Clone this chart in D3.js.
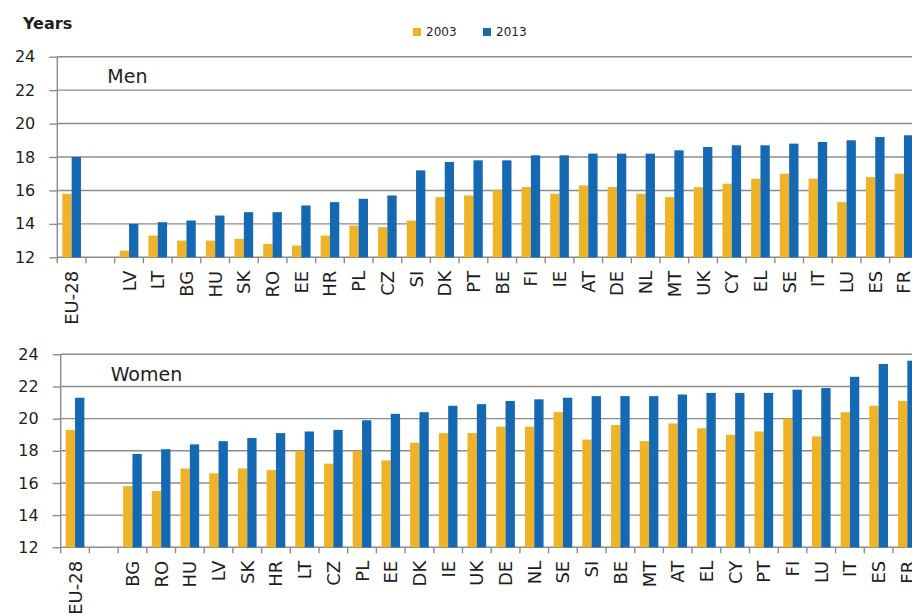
<!DOCTYPE html>
<html>
<head>
<meta charset="utf-8">
<script src="https://cdn.jsdelivr.net/npm/d3@7"></script>
<style>
body { margin: 0; background: #fff; }
svg { display: block; font-family: "DejaVu Sans", Verdana, sans-serif; }
</style>
</head>
<body>
<svg id="chart" width="912" height="615"></svg>
<script>
// life expectancy at 65, years
const years = ["2003", "2013"];
const yTicks = [12, 14, 16, 18, 20, 22, 24];

const menCountries = ["EU-28", "", "LV", "LT", "BG", "HU", "SK", "RO", "EE", "HR", "PL", "CZ", "SI", "DK", "PT", "BE", "FI", "IE", "AT", "DE", "NL", "MT", "UK", "CY", "EL", "SE", "IT", "LU", "ES", "FR"];
const men2003 = [15.8, null, 12.4, 13.3, 13.0, 13.0, 13.1, 12.8, 12.7, 13.3, 13.9, 13.8, 14.2, 15.6, 15.7, 16.0, 16.2, 15.8, 16.3, 16.2, 15.8, 15.6, 16.2, 16.4, 16.7, 17.0, 16.7, 15.3, 16.8, 17.0];
const men2013 = [18.0, null, 14.0, 14.1, 14.2, 14.5, 14.7, 14.7, 15.1, 15.3, 15.5, 15.7, 17.2, 17.7, 17.8, 17.8, 18.1, 18.1, 18.2, 18.2, 18.2, 18.4, 18.6, 18.7, 18.7, 18.8, 18.9, 19.0, 19.2, 19.3];

const womenCountries = ["EU-28", "", "BG", "RO", "HU", "LV", "SK", "HR", "LT", "CZ", "PL", "EE", "DK", "IE", "UK", "DE", "NL", "SE", "SI", "BE", "MT", "AT", "EL", "CY", "PT", "FI", "LU", "IT", "ES", "FR"];
const women2003 = [19.3, null, 15.8, 15.5, 16.9, 16.6, 16.9, 16.8, 18.0, 17.2, 18.0, 17.4, 18.5, 19.1, 19.1, 19.5, 19.5, 20.4, 18.7, 19.6, 18.6, 19.7, 19.4, 19.0, 19.2, 20.0, 18.9, 20.4, 20.8, 21.1];
const women2013 = [21.3, null, 17.8, 18.1, 18.4, 18.6, 18.8, 19.1, 19.2, 19.3, 19.9, 20.3, 20.4, 20.8, 20.9, 21.1, 21.2, 21.3, 21.4, 21.4, 21.4, 21.5, 21.6, 21.6, 21.6, 21.8, 21.9, 22.6, 23.4, 23.6];

const colors = { "2003": "#efb327", "2013": "#1569b2" };
const gridColor = "#8c8c8c";
const textColor = "#1e1e1e";
const slot = 28.7;
const W = 912;

const svg = d3.select("#chart");

function drawPanel(cfg) {
    const rows = cfg.countries.map((c, i) => ({ country: c, "2003": cfg.v2003[i], "2013": cfg.v2013[i] }));

    const y = d3.scaleLinear()
        .domain([12, 24])
        .range([cfg.bottom, cfg.top]);

    const x0 = d3.scaleBand()
        .domain(cfg.countries)
        .range([cfg.left, cfg.left + slot * cfg.countries.length]);

    const x1 = d3.scaleBand()
        .domain(years)
        .range([0, x0.bandwidth()])
        .paddingOuter(0.54);

    const g = svg.append("g");

    // grid
    g.selectAll(".grid")
        .data(yTicks)
        .enter()
        .append("line")
        .attr("x1", cfg.left)
        .attr("x2", W)
        .attr("y1", d => y(d))
        .attr("y2", d => y(d))
        .attr("stroke", gridColor)
        .attr("stroke-width", 1.4);

    // y axis labels + little ticks
    const yAxis = d3.axisLeft(y)
        .tickValues(yTicks)
        .tickSize(8)
        .tickPadding(14)
        .tickFormat(d3.format("d"));

    const ya = g.append("g")
        .attr("transform", `translate(${cfg.left},0)`)
        .call(yAxis);
    ya.select(".domain").remove();
    ya.selectAll(".tick line").attr("stroke", gridColor).attr("stroke-width", 1.4);
    ya.selectAll(".tick text")
        .attr("fill", textColor)
        .style("font-size", "16px")
        .style("font-family", "'DejaVu Sans', Verdana, sans-serif");

    // bars
    g.selectAll(".grp")
        .data(rows.filter(r => r["2003"] != null))
        .enter()
        .append("g")
        .attr("transform", d => `translate(${x0(d.country)},0)`)
        .selectAll("rect")
        .data(d => years.map(k => ({ key: k, value: d[k] })))
        .enter()
        .append("rect")
        .attr("x", d => x1(d.key))
        .attr("width", x1.bandwidth())
        .attr("y", d => y(d.value))
        .attr("height", d => y(12) - y(d.value))
        .attr("fill", d => colors[d.key]);

    // vertical axis line
    g.append("line")
        .attr("x1", cfg.left).attr("x2", cfg.left)
        .attr("y1", y(24)).attr("y2", y(12) + 6)
        .attr("stroke", gridColor)
        .attr("stroke-width", 1.4);

    // category ticks
    g.selectAll(".xtick")
        .data(cfg.countries.slice(1))
        .enter()
        .append("line")
        .attr("x1", d => x0(d))
        .attr("x2", d => x0(d))
        .attr("y1", y(12))
        .attr("y2", y(12) + 6)
        .attr("stroke", gridColor)
        .attr("stroke-width", 1.4);

    // category labels
    g.selectAll(".xlab")
        .data(cfg.countries.filter(c => c !== ""))
        .enter()
        .append("text")
        .attr("transform", d => `translate(${x0(d) + x0.bandwidth() / 2},${y(12) + 13.5}) rotate(-90)`)
        .attr("text-anchor", "end")
        .attr("dy", "0.36em")
        .attr("fill", textColor)
        .style("font-size", "18px")
        .text(d => d);

    // panel title
    g.append("text")
        .attr("x", cfg.left + 50)
        .attr("y", cfg.titleY)
        .attr("fill", textColor)
        .style("font-size", "19px")
        .text(cfg.title);
}

drawPanel({
    title: "Men", titleY: 83,
    countries: menCountries, v2003: men2003, v2013: men2013,
    left: 57.3, top: 56.7, bottom: 257.3
});

drawPanel({
    title: "Women", titleY: 381,
    countries: womenCountries, v2003: women2003, v2013: women2013,
    left: 60.7, top: 354.3, bottom: 547.3
});

// header
svg.append("text")
    .attr("x", 23)
    .attr("y", 29)
    .attr("fill", textColor)
    .style("font-size", "16px")
    .style("font-weight", "bold")
    .text("Years");

const legend = svg.append("g")
    .selectAll("g")
    .data(years)
    .enter()
    .append("g")
    .attr("transform", (d, i) => `translate(${413 + i * 70},28)`);

legend.append("rect")
    .attr("width", 8)
    .attr("height", 8)
    .attr("fill", d => colors[d]);

legend.append("text")
    .attr("x", 13)
    .attr("y", 8)
    .attr("fill", textColor)
    .style("font-size", "12px")
    .text(d => d);
</script>
</body>
</html>
